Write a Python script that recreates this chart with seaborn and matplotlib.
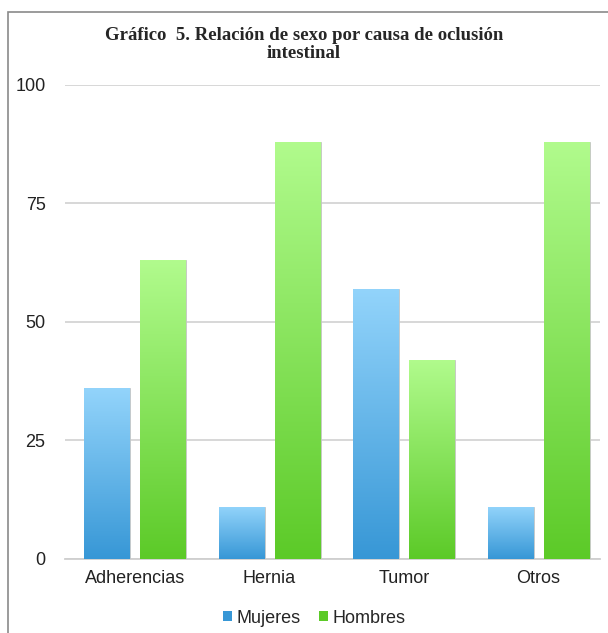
import matplotlib.pyplot as plt
import matplotlib.colors as mcolors
from matplotlib.patches import Rectangle
import seaborn as sns
import numpy as np
import pandas as pd

# datos
causas = ["Adherencias", "Hernia", "Tumor", "Otros"]
mujeres = [36, 11, 57, 11]
hombres = [63, 88, 42, 88]
series = ["Mujeres", "Hombres"]
y_ticks = [0, 25, 50, 75, 100]

df = pd.DataFrame({
    "causa": causas * 2,
    "valor": mujeres + hombres,
    "sexo": ["Mujeres"] * len(causas) + ["Hombres"] * len(causas),
})

# colores del degradado (arriba claro, abajo oscuro)
grad = {
    "Mujeres": ("#93d4fb", "#3797d6"),
    "Hombres": ("#b1fb8d", "#5cca28"),
}
base = {"Mujeres": "#5bb3ea", "Hombres": "#7fe04f"}

sns.set_style("white")
plt.rcParams["font.family"] = ["Liberation Sans", "DejaVu Sans"]

fig = plt.figure(figsize=(6.08, 6.33), dpi=100)
ax = fig.add_axes([0.107, 0.117, 0.880, 0.749])

sns.barplot(data=df, x="causa", y="valor", hue="sexo", hue_order=series,
            palette=base, width=0.833, gap=0.18, ax=ax, zorder=3)

ax.set_yticks(y_ticks)
ax.grid(axis="y", color="#d4d4d4", linewidth=1.3, zorder=0)
ax.set_axisbelow(True)
for s in ["top", "right", "left"]:
    ax.spines[s].set_visible(False)
ax.spines["bottom"].set_color("#cfcfcf")
ax.spines["bottom"].set_linewidth(1.3)
ax.tick_params(axis="y", length=0, pad=14, labelsize=13, colors="#222222")
ax.tick_params(axis="x", length=0, pad=8, labelsize=13, colors="#222222")
ax.set_xlabel("")
ax.set_ylabel("")

# degradado vertical en cada barra
n = len(causas)
for i, patch in enumerate(ax.patches[:2 * n]):
    sexo = series[i // n]
    top_c, bot_c = grad[sexo]
    cmap = mcolors.LinearSegmentedColormap.from_list(sexo, [bot_c, top_c])
    x0, y0 = patch.get_x(), patch.get_y()
    w, h = patch.get_width(), patch.get_height()
    img = np.linspace(0, 1, 256).reshape(-1, 1)
    im = ax.imshow(img, cmap=cmap, origin="lower", aspect="auto",
                   extent=[x0, x0 + w, y0, y0 + h], zorder=4)
    im.set_clip_path(patch)
    patch.set_edgecolor("#c8c8c8")
    patch.set_linewidth(0.6)

ax.set_xlim(-0.52, 3.457)
ax.set_ylim(0, 100)

leg = ax.legend(loc="center", bbox_to_anchor=(0.466, -0.125), ncol=2,
                frameon=False, fontsize=13, handlelength=0.5, handleheight=0.5,
                handletextpad=0.25, columnspacing=1.0)
for h, s in zip(leg.legend_handles, series):
    h.set_facecolor(grad[s][1])
    h.set_edgecolor("none")

fig.text(0.5, 0.929, "Gráfico  5. Relación de sexo por causa de oclusión\nintestinal",
         ha="center", va="center", fontsize=13.5, fontweight="bold",
         family=["Liberation Serif", "DejaVu Serif"], linespacing=1.08)

# marco del gráfico (recortado a la derecha y abajo)
fig.patches.append(Rectangle((8 / 608, -0.1), 1.2, 1 - 12 / 633 + 0.1,
                             transform=fig.transFigure, fill=False,
                             edgecolor="#8a8a8a", linewidth=1.2))

fig.savefig("out.png", dpi=100)
